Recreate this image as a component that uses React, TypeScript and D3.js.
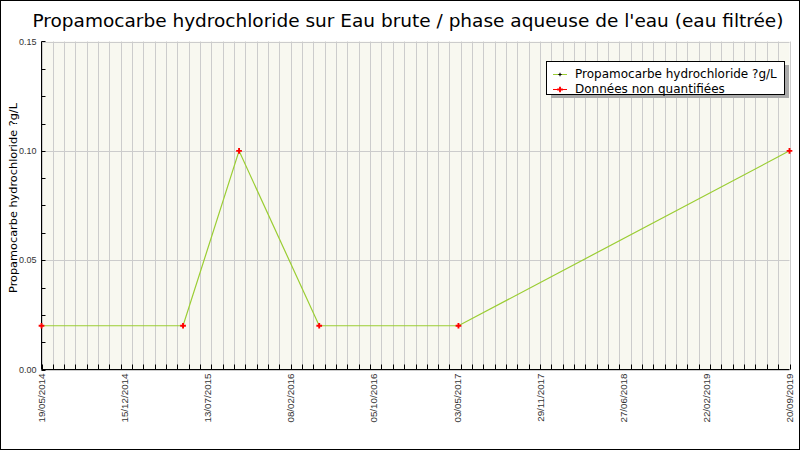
import React from 'react';
import * as d3 from 'd3';

const title = "Propamocarbe hydrochloride sur Eau brute / phase aqueuse de l'eau (eau filtrée)";
const yLabel = 'Propamocarbe hydrochloride ?g/L';
const legendLabels = ['Propamocarbe hydrochloride ?g/L', 'Données non quantifiées'];

const sampleDates = ['2014-05-19', '2015-05-23', '2015-10-16', '2016-05-12', '2017-05-10', '2019-09-20'];
const sampleValues = [0.02, 0.02, 0.1, 0.02, 0.02, 0.1];

const xTickLabels = [
  '19/05/2014', '15/12/2014', '13/07/2015', '08/02/2016', '05/10/2016',
  '03/05/2017', '29/11/2017', '27/06/2018', '22/02/2019', '20/09/2019',
];
const yTickValues = [0, 0.05, 0.1, 0.15];

const W = 800;
const H = 450;
const left = 41.5;
const right = 789.5;
const top = 41.5;
const bottom = 369.5;

const App: React.FC = () => {
  const parse = d3.utcParse('%Y-%m-%d');
  const data = sampleDates.map((d, i) => ({ date: parse(d) as Date, value: sampleValues[i] }));

  const x = d3.scaleUtc()
    .domain(d3.extent(data, d => d.date) as [Date, Date])
    .range([left, right]);
  const y = d3.scaleLinear().domain([0, 0.15]).range([bottom, top]);

  // the axis has 66 minor steps and 9 labelled steps, not aligned to each other
  const [t0, t1] = x.domain().map(d => d.getTime());
  const minorTimes = d3.range(67).map(i => new Date(t0 + (i * (t1 - t0)) / 66));
  const labelTimes = xTickLabels.map((_, i) => new Date(t0 + (i * (t1 - t0)) / (xTickLabels.length - 1)));
  const yMinor = d3.range(0, 0.15 + 1e-9, 0.0125);

  const line = d3.line<{ date: Date; value: number }>()
    .x(d => x(d.date))
    .y(d => y(d.value));

  const marker = d3.symbol().type(d3.symbolCross).size(18)() as string;
  const smallMarker = d3.symbol().type(d3.symbolCross).size(6)() as string;

  const tickFont = 'Liberation Sans, Arial, sans-serif';
  const mainFont = 'DejaVu Sans, sans-serif';

  return (
    <svg width={W} height={H} style={{ position: 'absolute', left: 0, top: 0 }}>
      <rect x={0.5} y={0.5} width={W - 1} height={H - 1} fill="#fff" stroke="#000" />

      <text x={408} y={27} textAnchor="middle" fontFamily={mainFont} fontSize={18.5} fill="#000">
        {title}
      </text>

      {/* plot area */}
      <rect x={left} y={top} width={right - left} height={bottom - top} fill="#f8f8f0" />

      {minorTimes.map((t, i) => (
        <line key={'vg' + i} x1={Math.round(x(t)) + 0.5} x2={Math.round(x(t)) + 0.5} y1={top} y2={bottom}
          stroke="#cccccc" />
      ))}
      {yTickValues.map((v, i) => (
        <line key={'hg' + i} x1={left} x2={right} y1={Math.round(y(v)) + 0.5} y2={Math.round(y(v)) + 0.5}
          stroke="#cccccc" />
      ))}

      {/* axes */}
      <line x1={left} x2={left} y1={top} y2={bottom} stroke="#000" />
      <line x1={left} x2={right} y1={bottom} y2={bottom} stroke="#000" />
      {yMinor.map((v, i) => (
        <line key={'yt' + i} x1={left} x2={left + 4} y1={Math.round(y(v)) + 0.5} y2={Math.round(y(v)) + 0.5}
          stroke="#000" />
      ))}
      {yTickValues.map((v, i) => (
        <text key={'yl' + i} x={left - 5} y={y(v) + 3} textAnchor="end" fontFamily={tickFont}
          fontSize={9} fill="#333">
          {v.toFixed(2)}
        </text>
      ))}
      {minorTimes.map((t, i) => (
        <line key={'xt' + i} x1={Math.round(x(t)) + 0.5} x2={Math.round(x(t)) + 0.5} y1={bottom - 5} y2={bottom}
          stroke="#000" />
      ))}
      {labelTimes.map((t, i) => (
        <text key={'xl' + i} transform={`translate(${x(t) + 3.5},${bottom + 4}) rotate(-90)`}
          textAnchor="end" fontFamily={tickFont} fontSize={9.8} fill="#333">
          {xTickLabels[i]}
        </text>
      ))}

      <text transform={`translate(16.5,198) rotate(-90)`} textAnchor="middle"
        fontFamily={mainFont} fontSize={11.3} fill="#000">
        {yLabel}
      </text>

      {/* series */}
      <path d={line(data) as string} fill="none" stroke="#9acd32" strokeWidth={1.2} />
      {data.map((d, i) => (
        <path key={'m' + i} d={marker} transform={`translate(${x(d.date)},${y(d.value)})`} fill="#ff0000" />
      ))}

      {/* legend */}
      <rect x={551} y={65} width={238} height={33} fill="#aaaaaa" />
      <rect x={546.5} y={61.5} width={238} height={33} fill="#fff" stroke="#000" />
      <line x1={553} x2={567} y1={74.5} y2={74.5} stroke="#9acd32" />
      <path d={smallMarker} transform="translate(560,74.5)" fill="#000" />
      <text x={575} y={74} dominantBaseline="central" fontFamily={mainFont} fontSize={12} fill="#000">
        {legendLabels[0]}
      </text>
      <line x1={553} x2={567} y1={89.5} y2={89.5} stroke="#ff0000" />
      <path d={marker} transform="translate(560,89.5)" fill="#ff0000" />
      <text x={575} y={89} dominantBaseline="central" fontFamily={mainFont} fontSize={12} fill="#000">
        {legendLabels[1]}
      </text>
    </svg>
  );
};

export default App;
